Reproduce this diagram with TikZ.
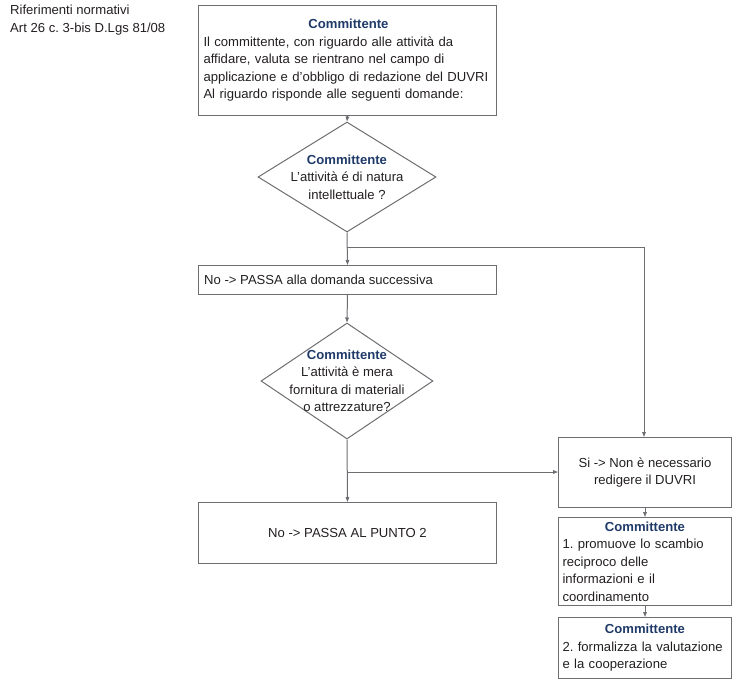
\documentclass[tikz,border=0pt]{standalone}
\usepackage{fontspec}
\setmainfont{Liberation Sans}
\usetikzlibrary{shapes.geometric,arrows.meta}
\definecolor{hd}{HTML}{1F3A68}
\definecolor{ln}{HTML}{6D6E71}
\definecolor{tx}{HTML}{231F20}
\tikzset{
  every node/.style={font=\fontsize{13.1}{17.5}\selectfont\frenchspacing, text=tx},
  box/.style={draw=ln, line width=1pt, rectangle, inner sep=0pt, anchor=north west},
  dia/.style={draw=ln, line width=1pt, diamond, inner sep=0pt},
  conn/.style={draw=ln, line width=1pt},
  arr/.style={conn, -{Triangle[length=5pt,width=3.6pt]}},
  lbl/.style={inner sep=0pt}
}
\newcommand{\hdr}[1]{\textbf{\color{hd}#1}}
\begin{document}
\begin{tikzpicture}[x=1pt,y=-1pt]
\useasboundingbox (0,0) rectangle (737,683);
% left reference text
\node[lbl, anchor=north west, align=left] (ref) at (10,5) {Riferimenti normativi\\Art 26 c. 3-bis D.Lgs 81/08};
% top box
\node[box, minimum width=298pt, minimum height=110pt] (b1) at (198,5) {};
\node[lbl, align=left, text width=290pt] (t1) at ([xshift=1pt]b1.center) {\makebox[290pt]{\hdr{Committente}}\\Il committente, con riguardo alle attività da\\affidare, valuta se rientrano nel campo di\\applicazione e d’obbligo di redazione del DUVRI\\Al riguardo risponde alle seguenti domande:};
% diamond 1
\node[dia, minimum width=178pt, minimum height=110pt] (d1) at (347,177) {};
\node[lbl, align=center] (t2) at (d1.center) {\hdr{Committente}\\L’attività é di natura\\intellettuale ?};
% box no1
\node[box, minimum width=298pt, minimum height=29pt] (b2) at (198,265) {};
\node[lbl, anchor=west] (t3) at ([xshift=6pt]b2.west) {No -> PASSA alla domanda successiva};
% diamond 2
\node[dia, minimum width=172pt, minimum height=116pt] (d2) at (347,381) {};
\node[lbl, align=center] (t4) at (d2.center) {\hdr{Committente}\\L’attività è mera\\fornitura di materiali\\o attrezzature?};
% box no2
\node[box, minimum width=298pt, minimum height=61pt] (b3) at (198,502) {};
\node[lbl] (t5) at (b3.center) {No -> PASSA AL PUNTO 2};
% si box
\node[box, minimum width=173pt, minimum height=70pt] (s1) at (558,437) {};
\node[lbl, align=center] (t6) at (s1.center) {Si -> Non è necessario\\redigere il DUVRI};
% committente 1
\node[box, minimum width=173pt, minimum height=88pt] (c1) at (558,517) {};
\node[lbl, align=left, text width=165pt] (t7) at (c1.center) {\makebox[165pt]{\hdr{Committente}}\\1. promuove lo scambio\\reciproco delle\\informazioni e il\\coordinamento};
% committente 2
\node[box, minimum width=173pt, minimum height=61pt] (c2) at (558,617) {};
\node[lbl, align=left, text width=165pt] (t8) at (c2.center) {\makebox[165pt]{\hdr{Committente}}\\2. formalizza la valutazione\\e la cooperazione};
% connectors
\coordinate (j1) at (347,247);
\coordinate (j2) at (347,472);
\draw[arr] (b1.south) -- (d1.north);
\draw[arr] (d1.south) -- (b2.north);
\draw[arr] (j1) -| (s1.north -| 644,0);
\draw[arr] (b2.south) -- (d2.north);
\draw[arr] (d2.south) -- (b3.north);
\draw[arr] (j2) -- (j2 -| s1.west);
\draw[arr] (s1.south) -- (c1.north);
\draw[arr] (c1.south) -- (c2.north);
\end{tikzpicture}
\end{document}
